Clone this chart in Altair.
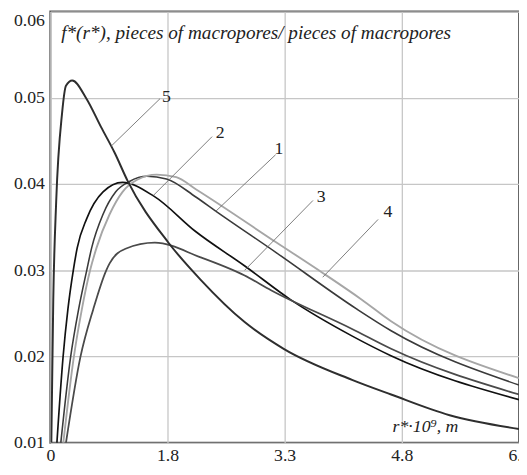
import altair as alt
import pandas as pd

# ---------------- data ----------------
# curve 1 (dark gray)
x_c1 = [0.434, 0.559, 0.6625, 0.766, 0.829, 0.975, 1.1375, 1.3125, 1.5375, 1.7875, 2.1625, 2.4125, 3.2, 4.225, 4.6625, 6.3]
y_c1 = [0.0100, 0.0199, 0.0255, 0.0300, 0.0326, 0.0365, 0.0391, 0.0403, 0.0409, 0.0406, 0.0385, 0.0369, 0.0320, 0.0255, 0.0230, 0.0167]
# curve 2 (black)
x_c2 = [0.384, 0.4625, 0.525, 0.594, 0.644, 0.766, 0.975, 1.225, 1.625, 2.16, 2.79, 3.375, 4.16, 4.66, 6.3]
y_c2 = [0.0100, 0.0199, 0.0255, 0.0300, 0.0326, 0.0360, 0.0391, 0.0402, 0.0386, 0.0345, 0.0305, 0.0266, 0.0224, 0.0201, 0.0150]
# curve 3 (flat, medium gray)
x_c3 = [0.5, 0.684, 0.85, 1.016, 1.059, 1.2625, 1.6375, 2.225, 2.7875, 3.125, 4.1625, 4.6625, 6.3]
y_c3 = [0.0100, 0.0199, 0.0255, 0.0300, 0.0308, 0.0325, 0.0332, 0.0315, 0.0294, 0.0277, 0.0232, 0.0209, 0.0156]
# curve 4 (light gray)
x_c4 = [0.466, 0.6, 0.704, 0.809, 0.891, 1.059, 1.225, 1.4125, 1.6625, 1.9125, 2.1625, 3.2, 3.7875, 4.2875, 4.6625, 6.3]
y_c4 = [0.0100, 0.0199, 0.0255, 0.0300, 0.0326, 0.0365, 0.0391, 0.0405, 0.0411, 0.0408, 0.0394, 0.0332, 0.0297, 0.0266, 0.0241, 0.0175]
# curve 5 (high narrow peak)
x_c5 = [0.3125, 0.3375, 0.375, 0.45, 0.5, 0.58, 0.7625, 0.95, 1.125, 1.2875, 1.8125, 2.225, 2.7875, 3.2875, 4.1625, 4.6625, 5.4125, 6.3]
y_c5 = [0.0100, 0.0266, 0.0380, 0.0482, 0.0514, 0.0520, 0.0499, 0.0466, 0.0436, 0.0404, 0.0332, 0.0289, 0.0240, 0.0209, 0.0173, 0.0156, 0.0132, 0.0116]

curve_names = ["1", "2", "3", "4", "5"]

# curve number labels and their leader lines (data coordinates)
label_x = [3.225, 2.475, 3.766, 4.621, 1.7875]
label_y = [0.0440, 0.0459, 0.0385, 0.0368, 0.0501]
leader_x_from = [3.184, 2.371, 3.6625, 4.496, 1.704]
leader_y_from = [0.0434, 0.0455, 0.0381, 0.0359, 0.0499]
leader_x_to = [2.4125, 1.621, 2.7875, 3.7875, 1.079]
leader_y_to = [0.0368, 0.0387, 0.0300, 0.0292, 0.0444]

x_tick_values = [0.3, 1.8, 3.3, 4.8, 6.3]
x_tick_labels = ["0", "1.8", "3.3", "4.8", "6.3"]
y_tick_values = [0.01, 0.02, 0.03, 0.04, 0.05, 0.06]

y_title_text = "f*(r*), pieces of macropores/ pieces of macropores"
x_title_text = "r*·10⁹, m"

# ---------------- build tables ----------------
rows = []
for name, xs, ys in zip(curve_names, [x_c1, x_c2, x_c3, x_c4, x_c5], [y_c1, y_c2, y_c3, y_c4, y_c5]):
    for i, (a, b) in enumerate(zip(xs, ys)):
        rows.append({"curve": name, "x": a, "y": b, "order": i})
df = pd.DataFrame(rows)

ann = pd.DataFrame({
    "name": curve_names,
    "lx": label_x, "ly": label_y,
    "x0": leader_x_from, "y0": leader_y_from,
    "x1": leader_x_to, "y1": leader_y_to,
})

curve_colors = ["#3a3a3a", "#111111", "#4a4a4a", "#a6a6a6", "#2e2e2e"]
curve_widths = [1.6, 2.0, 1.5, 1.8, 1.6]

FONT = "'Liberation Serif', 'Times New Roman', 'DejaVu Serif', serif"

label_map = "{" + ",".join(f"'{v}':'{t}'" for v, t in zip(x_tick_values, x_tick_labels)) + "}"

xscale = alt.Scale(domain=[0.3, 6.3], nice=False, zero=False)
yscale = alt.Scale(domain=[0.01, 0.06], nice=False, zero=False)

x_axis = alt.Axis(
    values=x_tick_values,
    labelExpr=f"{label_map}[toString(datum.value)]",
    title=None, domain=False, ticks=False,
    grid=True, gridColor="#c6c6c6", gridWidth=1.3,
    labelFont=FONT, labelFontSize=18, labelColor="#222",
    labelPadding=4, labelFlush=False, labelOverlap=False,
)
y_axis = alt.Axis(
    values=y_tick_values, format=".2f",
    title=None, domain=False, ticks=False,
    grid=True, gridColor="#c6c6c6", gridWidth=1.3,
    labelFont=FONT, labelFontSize=18, labelColor="#222",
    labelPadding=6, labelFlush=False, labelOverlap=False,
    labelBaseline={"condition": {"test": "datum.value > 0.059", "value": "top"}, "value": "middle"},
)

lines = alt.Chart(df).mark_line(interpolate="monotone", clip=True).encode(
    x=alt.X("x:Q", scale=xscale, axis=x_axis),
    y=alt.Y("y:Q", scale=yscale, axis=y_axis),
    color=alt.Color("curve:N", scale=alt.Scale(domain=curve_names, range=curve_colors), legend=None),
    strokeWidth=alt.StrokeWidth("curve:N", scale=alt.Scale(domain=curve_names, range=curve_widths), legend=None),
    order="order:Q",
    detail="curve:N",
)

leaders = alt.Chart(ann).mark_rule(color="#6e6e6e", strokeWidth=0.9).encode(
    x=alt.X("x0:Q", scale=xscale),
    y=alt.Y("y0:Q", scale=yscale),
    x2="x1:Q",
    y2="y1:Q",
)

labels = alt.Chart(ann).mark_text(
    font=FONT, fontSize=18, color="#222", align="center", baseline="middle"
).encode(
    x=alt.X("lx:Q", scale=xscale),
    y=alt.Y("ly:Q", scale=yscale),
    text="name:N",
)

titles = pd.DataFrame({"t": [y_title_text]})
ytitle = alt.Chart(titles).mark_text(
    font=FONT, fontSize=19.5, fontStyle="italic", color="#222", align="left", baseline="middle"
).encode(x=alt.value(11), y=alt.value(22), text="t:N")

xtitles = pd.DataFrame({"t": [x_title_text]})
xtitle = alt.Chart(xtitles).mark_text(
    font=FONT, fontSize=18, fontStyle="italic", color="#222", align="center", baseline="middle"
).encode(x=alt.value(381), y=alt.value(422), text="t:N")

chart = alt.layer(lines, leaders, labels, ytitle, xtitle).properties(
    width=476, height=438,
    autosize=alt.AutoSizeParams(type="none"),
    padding={"left": 43, "top": 0, "right": 0, "bottom": 26},
    background="white",
).configure_view(stroke="#555", strokeWidth=2)

chart.save("out.html", embed_options={"renderer": "svg", "actions": False})
